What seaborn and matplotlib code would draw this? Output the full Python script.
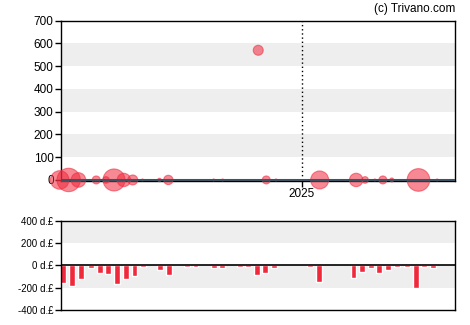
import matplotlib
matplotlib.use("Agg")
import matplotlib.pyplot as plt
import seaborn as sns
import pandas as pd

sns.set_theme(style="white")
plt.rcParams['font.family'] = ['Liberation Sans', 'DejaVu Sans']

# ---- data (x in months relative to Jan 2025) ----
bubble_x = [-27.2, -26.2, -25.1, -23.1, -22.0, -21.1, -20.0, -19.0, -17.9, -16.0,
            -15.0, -9.9, -8.9, -4.9, -4.0, -2.9, 2.0, 6.1, 7.1, 8.2, 9.1, 10.1,
            13.1, 15.2]
bubble_y = [0, 0, 0, 0, 0, 0, 0, 0, 0, 0,
            0, 0, 0, 570, 0, 0, 0, 0, 0, 0, 0, 0,
            0, 0]
bubble_vol = [86, 137, 53, 16, 11, 121, 45, 25, 1, 3,
              22, 1, 1, 25, 16, 1, 81, 45, 11, 1, 16, 4,
              128, 1]

bar_x = [-26.8, -25.8, -24.8, -23.7, -22.7, -21.8, -20.8, -19.8, -18.8, -17.9,
         -15.9, -14.9, -12.95, -11.95, -9.9, -9.0, -7.0, -6.0, -5.0, -4.1,
         -3.1, 0.87, 1.9, 5.8, 6.8, 7.8, 8.7, 9.7, 10.7, 11.8,
         12.8, 13.7, 14.7]
bar_val = [-158, -185, -121, -21, -64, -76, -167, -121, -94, -12,
           -39, -85, -12, -12, -21, -21, -12, -12, -85, -64,
           -21, -12, -148, -112, -58, -21, -67, -39, -12, -12,
           -203, -12, -21]
pos_x = [-13.9, -12.95]
pos_val = [12, 12]

top_ticks = [0, 100, 200, 300, 400, 500, 600, 700]
bot_ticks = [-400, -200, 0, 200, 400]
bot_labels = ["-400 d.£", "-200 d.£", "0 d.£", "200 d.£", "400 d.£"]

RED = "#f0283c"
GREEN = "#2e8b57"
BAND = "#eeeeee"

fig = plt.figure(figsize=(4.7, 3.25), dpi=100)
ax1 = fig.add_axes([0.129, 0.4428, 0.839, 0.4935])
ax2 = fig.add_axes([0.129, 0.046, 0.839, 0.2748])

xlim = (-27.1, 17.2)

# ---- top chart ----
for lo in [100, 300, 500]:
    ax1.axhspan(lo, lo + 100, color=BAND, zorder=0, lw=0)
df = pd.DataFrame({"x": bubble_x, "y": bubble_y, "v": bubble_vol})
sns.scatterplot(data=df, x="x", y="y", size="v", size_norm=(0, 137),
                sizes=(0, 284), color=RED, alpha=0.55, edgecolor=RED,
                linewidth=0.8, legend=False, ax=ax1, clip_on=False, zorder=3)
for c in ax1.collections:
    c.set_clip_on(False)
ax1.axhline(0, color="#3f5462", lw=2.2, zorder=4)
ax1.plot([0, 0], [0, 700], color="black", lw=1, ls=(0, (1, 2)), zorder=2)
ax1.set_xlim(*xlim)
ax1.set_ylim(-5, 700)
ax1.set_yticks(top_ticks)
ax1.set_xticks([0])
ax1.set_xticklabels(["2025"])
ax1.set_xlabel("")
ax1.set_ylabel("")
ax1.tick_params(axis="both", direction="out", length=4, width=1, color="black",
                labelsize=8.5, labelcolor="black", pad=1, left=True, bottom=True)
for s in ax1.spines.values():
    s.set_color("black")
    s.set_linewidth(1)
fig.text(0.968, 0.972, "(c) Trivano.com", ha="right", va="center",
         fontsize=8.5, color="black")

# ---- bottom chart ----
ax2.axhspan(200, 400, color=BAND, zorder=0, lw=0)
ax2.axhspan(-200, 0, color=BAND, zorder=0, lw=0)
ax2.bar(bar_x, bar_val, width=0.67, color=RED, zorder=2)
ax2.bar(pos_x, pos_val, width=0.67, color=GREEN, zorder=2)
ax2.axhline(0, color="black", lw=1.2, zorder=3)
ax2.set_xlim(*xlim)
ax2.set_ylim(-400, 400)
ax2.set_yticks(bot_ticks)
ax2.set_yticklabels(bot_labels)
ax2.set_xticks([])
ax2.tick_params(axis="y", direction="out", length=4, width=1, color="black",
                labelsize=7, labelcolor="black", pad=1, left=True)
for s in ax2.spines.values():
    s.set_color("black")
    s.set_linewidth(1)

fig.savefig("out.png", dpi=100)
